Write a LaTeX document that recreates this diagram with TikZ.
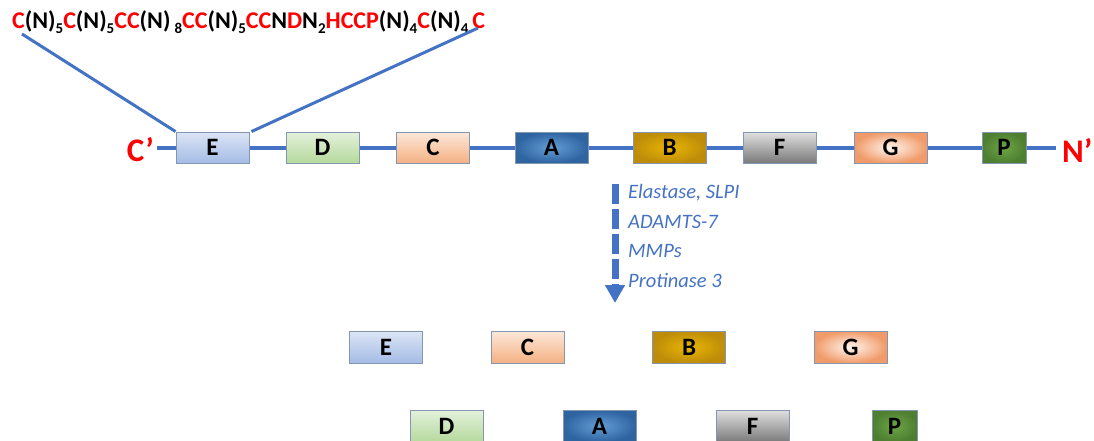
\documentclass[tikz,border=0pt]{standalone}
\usepackage{fontspec}
\setmainfont{Carlito}
\usetikzlibrary{arrows.meta}
\definecolor{linkblue}{HTML}{4472C4}
\definecolor{edgegray}{HTML}{8497B0}
\newcommand\rd[1]{\textcolor{red}{#1}}
\newcommand\lo[1]{\raisebox{-5pt}{\fontsize{15}{15}\selectfont #1}}
\tikzset{
  seg/.style={draw=edgegray, line width=0.9pt, minimum width=73pt, minimum height=31pt,
    inner sep=0pt, font=\fontsize{25}{25}\selectfont\bfseries, text=black},
  fillE/.style={seg, top color={rgb,255:red,220;green,229;blue,245}, bottom color={rgb,255:red,164;green,188;blue,230}},
  fillD/.style={seg, top color={rgb,255:red,228;green,241;blue,220}, bottom color={rgb,255:red,181;green,217;blue,156}},
  fillC/.style={seg, top color={rgb,255:red,252;green,232;blue,218}, bottom color={rgb,255:red,244;green,177;blue,131}},
  fillA/.style={seg, inner color={rgb,255:red,100;green,158;blue,214}, outer color={rgb,255:red,46;green,100;blue,160}},
  fillB/.style={seg, inner color={rgb,255:red,232;green,182;blue,0}, outer color={rgb,255:red,190;green,140;blue,10}},
  fillF/.style={seg, top color={rgb,255:red,224;green,224;blue,224}, bottom color={rgb,255:red,122;green,122;blue,122}},
  fillG/.style={seg, inner color={rgb,255:red,255;green,245;blue,238}, outer color={rgb,255:red,240;green,155;blue,105}},
  fillP/.style={seg, minimum width=44pt, inner color={rgb,255:red,108;green,165;blue,70}, outer color={rgb,255:red,78;green,126;blue,48}},
  backbone/.style={draw=linkblue, line width=3.5pt},
  endlabel/.style={text=red, font=\fontsize{33}{33}\selectfont\bfseries, inner sep=0pt},
  enzyme/.style={text=linkblue, font=\fontsize{20.5}{20.5}\selectfont\itshape, anchor=west, inner sep=0pt},
}
\begin{document}
\begin{tikzpicture}[x=1pt, y=-1pt]
\useasboundingbox (0,0) rectangle (1094,441);

% backbone ends and labels
\coordinate (cend) at (157,148);
\coordinate (nend) at (1056,148);
\draw[backbone] (cend) -- (nend);
\node[endlabel, anchor=east] (cl) at (154,150) {C’};
\node[endlabel, anchor=west] (nl) at (1062,150) {N’};

% domains along the chain
\node[fillE] (tE) at (212.5,147.5) {E};
\node[fillD] (tD) at (322.5,147.5) {D};
\node[fillC] (tC) at (433,147.5) {C};
\node[fillA] (tA) at (551.5,147.5) {A};
\node[fillB] (tB) at (669.5,147.5) {B};
\node[fillF] (tF) at (779.5,147.5) {F};
\node[fillG] (tG) at (890.5,147.5) {G};
\node[fillP] (tP) at (1004,147.5) {P};

% motif sequence of domain E
\node[anchor=base west, inner sep=0pt, font=\fontsize{24}{24}\selectfont\bfseries] (seq) at (12,29)
  {\rd{C}(N)\lo{5}\rd{C}(N)\lo{5}\rd{CC}(N)\,\lo{8}\rd{CC}(N)\lo{5}\rd{CC}N\rd{D}N\lo{2}\rd{HCCP}(N)\lo{4}\rd{C}(N)\lo{4}\,\rd{C}};
\coordinate (sl) at (22,34);
\coordinate (sr) at (478,28);
\draw[backbone, line width=3pt] (sl) -- (tE.north west);
\draw[backbone, line width=3pt] (sr) -- ([xshift=2pt]tE.north east);

% proteolysis arrow
\coordinate (ar1) at (615,184);
\coordinate (ar2) at (615,303);
\draw[draw=linkblue, line width=7pt, dash pattern=on 20pt off 5pt,
  -{Triangle[width=19pt,length=18pt,fill=linkblue]}] (ar1) -- (ar2);
\node[enzyme] (e1) at (628,193) {Elastase, SLPI};
\node[enzyme] (e2) at (628,222) {ADAMTS-7};
\node[enzyme] (e3) at (628,251) {MMPs};
\node[enzyme] (e4) at (628,280) {Protinase 3};

% released fragments
\node[fillE, minimum height=32pt] (bE) at (386,347) {E};
\node[fillC, minimum height=32pt] (bC) at (527.5,347) {C};
\node[fillB, minimum height=32pt] (bB) at (689,347) {B};
\node[fillG, minimum height=32pt] (bG) at (850.5,347) {G};
\node[fillD, minimum height=32pt] (bD) at (446.5,426) {D};
\node[fillA, minimum height=32pt] (bA) at (599.5,426) {A};
\node[fillF, minimum height=32pt] (bF) at (752.5,426) {F};
\node[fillP, minimum height=32pt, minimum width=45pt] (bP) at (894.5,426) {P};
\end{tikzpicture}
\end{document}
